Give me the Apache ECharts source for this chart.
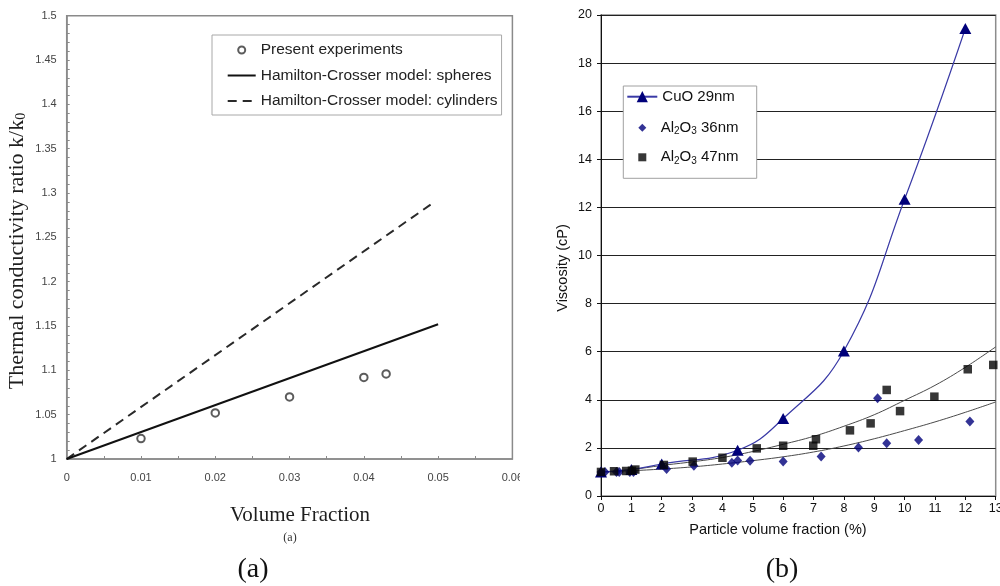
<!DOCTYPE html>
<html>
<head>
<meta charset="utf-8">
<script src="https://cdn.jsdelivr.net/npm/echarts@6/dist/echarts.min.js"></script>
<style>
  html, body { margin: 0; padding: 0; background: #fff; }
  #wrap { position: relative; width: 1000px; height: 586px; overflow: hidden; background: #fff; }
  #left { position: absolute; left: 0; top: 0; width: 520px; height: 586px; }
  #right { position: absolute; left: 520px; top: 0; width: 480px; height: 586px; }
</style>
</head>
<body>
<div id="wrap"><div id="left"></div><div id="right"></div></div>
<script>
// ---- (a) Thermal conductivity ratio vs volume fraction ----
const expFraction = [0.01, 0.02, 0.03, 0.04, 0.043];
const expRatio = [1.023, 1.052, 1.070, 1.092, 1.096];
const sphereFraction = [0, 0.05];
const sphereRatio = [1.0, 1.152];
const cylinderFraction = [0, 0.049];
const cylinderRatio = [1.0, 1.287];

// ---- (b) Viscosity vs particle volume fraction ----
const cuoFraction = [0, 1, 2, 4.5, 6, 8, 10, 12];
const cuoViscosity = [1.0, 1.1, 1.33, 1.9, 3.22, 6.03, 12.34, 19.44];

const al36Fraction = [0, 0.13, 0.51, 0.6, 0.95, 1.07, 2.16, 3.06, 4.31, 4.5, 4.91, 6.0, 7.25, 8.48, 9.11, 9.41, 10.46, 12.15];
const al36Viscosity = [1.0, 1.0, 1.0, 1.0, 1.0, 1.0, 1.12, 1.26, 1.38, 1.48, 1.47, 1.43, 1.64, 2.02, 4.06, 2.19, 2.33, 3.10];

const al47Fraction = [0, 0.43, 0.83, 1.02, 1.13, 2.07, 3.02, 4.0, 5.13, 6.0, 6.99, 7.08, 8.2, 8.88, 9.41, 9.85, 10.98, 12.08, 12.92];
const al47Viscosity = [1.0, 1.03, 1.04, 1.05, 1.1, 1.29, 1.43, 1.59, 1.98, 2.09, 2.09, 2.36, 2.73, 3.02, 4.41, 3.53, 4.13, 5.27, 5.45];

// fitted trend curves
const fitFraction = [0, 1, 2, 3, 4, 5, 6, 7, 8, 9, 10, 11, 12, 13];
const fit47Viscosity = [1.0, 1.1, 1.27, 1.42, 1.6, 1.85, 2.15, 2.48, 2.9, 3.38, 3.98, 4.6, 5.35, 6.2];
const fit36Viscosity = [1.0, 1.05, 1.12, 1.21, 1.33, 1.47, 1.63, 1.83, 2.08, 2.38, 2.72, 3.08, 3.48, 3.91];

const SERIF = '"Liberation Serif", "Times New Roman", serif';
const SANS = '"Liberation Sans", Arial, sans-serif';

function pairs(xs, ys) { return xs.map((x, i) => [x, ys[i]]); }
function trimNum(v) { return v === 0 ? '0' : String(+v.toFixed(2)); }

// ---------- left chart ----------
const leftChart = echarts.init(document.getElementById('left'), null, { renderer: 'canvas' });
leftChart.setOption({
  backgroundColor: '#fff',
  animation: false,
  grid: {
    left: 66.7, top: 15.7, width: 445.7, height: 443.3,
    outerBoundsMode: 'none', containLabel: false,
    show: true, borderColor: '#8a8a8a', borderWidth: 1.5, backgroundColor: 'transparent'
  },
  xAxis: {
    type: 'value', min: 0, max: 0.06, interval: 0.01,
    axisLine: { show: true, lineStyle: { color: '#8a8a8a', width: 1.5 } },
    axisTick: { show: true, inside: true, length: 3, lineStyle: { color: '#8a8a8a' } },
    minorTick: { show: true, splitNumber: 2, length: 3, lineStyle: { color: '#8a8a8a' } },
    splitLine: { show: false },
    axisLabel: { margin: 13, fontSize: 11, color: '#444', fontFamily: SANS, formatter: trimNum, hideOverlap: false }
  },
  yAxis: {
    type: 'value', min: 1, max: 1.5, interval: 0.05,
    axisLine: { show: true, lineStyle: { color: '#8a8a8a', width: 1.5 } },
    axisTick: { show: true, inside: true, length: 3, lineStyle: { color: '#8a8a8a' } },
    minorTick: { show: true, splitNumber: 5, length: 3, lineStyle: { color: '#8a8a8a' } },
    splitLine: { show: false },
    axisLabel: { margin: 10, fontSize: 11, color: '#444', fontFamily: SANS, formatter: trimNum }
  },
  legend: {
    data: [
      { name: 'Present experiments' },
      { name: 'Hamilton-Crosser model: spheres', itemStyle: { opacity: 0 } },
      { name: 'Hamilton-Crosser model: cylinders', itemStyle: { opacity: 0 } }
    ],
    orient: 'vertical', left: 212, top: 35,
    padding: [6, 4, 5, 14.7],
    itemWidth: 28, itemHeight: 7, itemGap: 7.5, symbolKeepAspect: true,
    borderColor: '#a8a8a8', borderWidth: 1, backgroundColor: '#fff',
    textStyle: { fontFamily: SANS, fontSize: 15.5, color: '#222', lineHeight: 18 }
  },
  series: [
    {
      name: 'Hamilton-Crosser model: cylinders', type: 'line', symbol: 'none',
      data: pairs(cylinderFraction, cylinderRatio),
      lineStyle: { color: '#2a2a2a', width: 2, type: [9, 6] }, itemStyle: { color: '#2a2a2a' }
    },
    {
      name: 'Hamilton-Crosser model: spheres', type: 'line', symbol: 'none',
      data: pairs(sphereFraction, sphereRatio),
      lineStyle: { color: '#111', width: 2 }, itemStyle: { color: '#111' }
    },
    {
      name: 'Present experiments', type: 'scatter', symbol: 'emptyCircle', symbolSize: 7.5,
      data: pairs(expFraction, expRatio),
      itemStyle: { color: '#333', borderWidth: 1.3 }, z: 5
    }
  ],
  graphic: [
    {
      type: 'text', x: 17, y: 251, rotation: Math.PI / 2,
      style: {
        text: '{m|Thermal conductivity ratio k/k}{s|0}',
        align: 'center', verticalAlign: 'middle',
        rich: {
          m: { fontFamily: SERIF, fontSize: 22, lineHeight: 22, fill: '#1e1e1e' },
          s: { fontFamily: SERIF, fontSize: 14, lineHeight: 10, verticalAlign: 'bottom', fill: '#1e1e1e' }
        }
      }
    },
    {
      type: 'text', x: 300, y: 515,
      style: { text: 'Volume Fraction', fontFamily: SERIF, fontSize: 21, fill: '#1e1e1e', align: 'center', verticalAlign: 'middle' }
    },
    {
      type: 'text', x: 290, y: 538,
      style: { text: '(a)', fontFamily: SERIF, fontSize: 12, fill: '#333', align: 'center', verticalAlign: 'middle' }
    },
    {
      type: 'text', x: 253, y: 570,
      style: { text: '(a)', fontFamily: SERIF, fontSize: 28, fill: '#111', align: 'center', verticalAlign: 'middle' }
    }
  ]
});

// ---------- right chart ----------
function chemLabel(name) {
  const m = name.match(/^Al2O3 (.*)$/);
  if (m) return '{gap|}{t|Al}{s|2}{t|O}{s|3}{t| ' + m[1] + '}';
  return '{t|' + name + '}';
}
const legendRich = {
  gap: { width: 9.4, lineHeight: 18 },
  t: { fontFamily: SANS, fontSize: 15, lineHeight: 18, color: '#111' },
  s: { fontFamily: SANS, fontSize: 10, lineHeight: 6, verticalAlign: 'bottom', color: '#111' }
};

const rightChart = echarts.init(document.getElementById('right'), null, { renderer: 'canvas' });
rightChart.setOption({
  backgroundColor: '#fff',
  animation: false,
  grid: {
    left: 81, top: 15, width: 394.7, height: 481,
    outerBoundsMode: 'none', containLabel: false,
    show: true, borderColor: '#8c8c8c', borderWidth: 1.5, backgroundColor: 'transparent'
  },
  xAxis: {
    type: 'value', min: 0, max: 13, interval: 1,
    axisLine: { show: true, onZero: false, lineStyle: { color: '#111', width: 1 } },
    axisTick: { show: true, inside: false, length: 4, lineStyle: { color: '#111' } },
    splitLine: { show: false },
    axisLabel: { margin: 6, fontSize: 12.5, color: '#111', fontFamily: SANS, hideOverlap: false }
  },
  yAxis: {
    type: 'value', min: 0, max: 20, interval: 2,
    axisLine: { show: true, lineStyle: { color: '#111', width: 1 } },
    axisTick: { show: true, inside: false, length: 4, lineStyle: { color: '#111' } },
    splitLine: { show: true, lineStyle: { color: '#222', width: 1 } },
    axisLabel: { margin: 9, fontSize: 12.5, color: '#111', fontFamily: SANS }
  },
  legend: [
    {
      data: ['CuO 29nm'], orient: 'vertical', left: 106.3, top: 87.7, padding: 0,
      itemWidth: 30, itemHeight: 14, formatter: chemLabel,
      textStyle: { rich: legendRich, lineHeight: 18 }
    },
    {
      data: ['Al2O3 36nm', 'Al2O3 47nm'], orient: 'vertical', left: 118.3, top: 118.7, padding: 0,
      itemWidth: 8, itemHeight: 8, itemGap: 11.6, formatter: chemLabel,
      textStyle: { rich: legendRich, lineHeight: 18 }
    }
  ],
  series: [
    {
      name: 'fit47', type: 'line', smooth: 0.4, symbol: 'none', silent: true,
      data: pairs(fitFraction, fit47Viscosity),
      lineStyle: { color: '#4a4a4a', width: 1 }, z: 2
    },
    {
      name: 'fit36', type: 'line', smooth: 0.4, symbol: 'none', silent: true,
      data: pairs(fitFraction, fit36Viscosity),
      lineStyle: { color: '#4a4a4a', width: 1 }, z: 2
    },
    {
      name: 'CuO 29nm', type: 'line', smooth: 0.45,
      symbol: 'triangle', symbolSize: [12, 11],
      data: pairs(cuoFraction, cuoViscosity),
      lineStyle: { color: '#3a3aa6', width: 1.2 }, itemStyle: { color: '#00007a' }, z: 3
    },
    {
      name: 'Al2O3 36nm', type: 'scatter', symbol: 'diamond', symbolSize: [9, 10],
      data: pairs(al36Fraction, al36Viscosity),
      itemStyle: { color: '#00007a' }, z: 4
    },
    {
      name: 'Al2O3 47nm', type: 'scatter', symbol: 'rect', symbolSize: 8.5,
      data: pairs(al47Fraction, al47Viscosity),
      itemStyle: { color: '#050505' }, z: 5
    }
  ],
  graphic: [
    {
      type: 'rect', z: 3, shape: { x: 103.3, y: 86, width: 133.4, height: 92.3 },
      style: { fill: '#fff', stroke: '#a0a0a0', lineWidth: 1 }
    },
    {
      type: 'text', x: 42.5, y: 268, rotation: Math.PI / 2,
      style: { text: 'Viscosity (cP)', fontFamily: SANS, fontSize: 14.5, fill: '#111', align: 'center', verticalAlign: 'middle' }
    },
    {
      type: 'text', x: 258, y: 530,
      style: { text: 'Particle volume fraction (%)', fontFamily: SANS, fontSize: 14.5, fill: '#111', align: 'center', verticalAlign: 'middle' }
    },
    {
      type: 'text', x: 262, y: 570,
      style: { text: '(b)', fontFamily: SERIF, fontSize: 28, fill: '#111', align: 'center', verticalAlign: 'middle' }
    }
  ]
});
</script>
</body>
</html>
